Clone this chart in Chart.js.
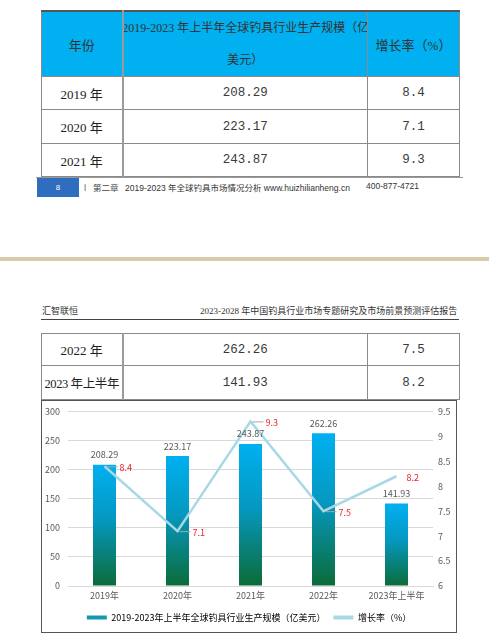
<!DOCTYPE html>
<html><head><meta charset="utf-8">
<script src="https://cdn.jsdelivr.net/npm/chart.js@4.4.0/dist/chart.umd.min.js"></script>
<style>
html,body{margin:0;padding:0;background:#fff;width:489px;height:643px;overflow:hidden;position:relative;font-family:"Liberation Serif","Noto Sans CJK SC",serif;color:#222;}
.abs{position:absolute;}
table{border-collapse:collapse;position:absolute;table-layout:fixed;}
td{border:1px solid #8a8a8a;text-align:center;font-size:13px;padding:0;overflow:hidden;white-space:nowrap;}
td.c1{border-right:2px solid #9a9a9a;}
.hd td{background:#00B0F0;color:#333;}
.num{font-family:"Liberation Mono","DejaVu Sans Mono",monospace;font-size:12.5px;color:#3a3a3a;}
.foot{font-family:"Liberation Sans","Noto Sans CJK SC",sans-serif;font-size:8px;color:#333;white-space:nowrap;}
</style></head>
<body>
<table style="left:41px;top:10px;width:418px;border-top:2px solid #555;">
<colgroup><col style="width:81px"><col style="width:245px"><col style="width:92px"></colgroup>
<tr class="hd" style="height:64px"><td class="c1">年份</td><td style="font-size:12px;line-height:32px;vertical-align:top;white-space:normal;"><div style="white-space:nowrap;margin-left:-3px;margin-right:-4px;">2019-2023 年上半年全球钓具行业生产规模（亿</div><div>美元）</div></td><td>增长率（%）</td></tr>
<tr style="height:33px"><td class="c1">2019 年</td><td class="num">208.29</td><td class="num">8.4</td></tr>
<tr style="height:34px"><td class="c1">2020 年</td><td class="num">223.17</td><td class="num">7.1</td></tr>
<tr style="height:33px"><td class="c1">2021 年</td><td class="num">243.87</td><td class="num">9.3</td></tr>
</table>
<div class="abs" style="left:36px;top:177px;width:427px;height:1px;background:#999;"></div>
<div class="abs" style="left:37px;top:178px;width:42px;height:19px;background:#2F6DBF;color:#fff;font-family:'Liberation Sans',sans-serif;font-size:8px;line-height:19px;text-align:center;">8</div>
<div class="abs foot" style="left:84px;top:182px;">|</div>
<div class="abs foot" style="left:93px;top:181px;font-size:8.5px;color:#444;">第二章</div>
<div class="abs foot" style="left:125px;top:181px;font-size:8.5px;">2019-2023 年全球钓具市场情况分析 www.huizhilianheng.cn</div>
<div class="abs foot" style="left:366px;top:181px;font-size:8.5px;">400-877-4721</div>
<div class="abs" style="left:0;top:257px;width:489px;height:4px;background:#D9CBAA;"></div>
<div class="abs" style="left:42px;top:304px;font-size:9px;color:#333;">汇智联恒</div>
<div class="abs" style="left:200px;top:304px;font-size:9px;color:#333;white-space:nowrap;">2023-2028 年中国钓具行业市场专题研究及市场前景预测评估报告</div>
<div class="abs" style="left:41px;top:319px;width:418px;height:1px;background:#444;"></div>
<table style="left:41px;top:333px;width:418px;">
<colgroup><col style="width:81px"><col style="width:245px"><col style="width:92px"></colgroup>
<tr style="height:32px"><td class="c1">2022 年</td><td class="num">262.26</td><td class="num">7.5</td></tr>
<tr style="height:34px"><td class="c1" style="font-size:12.5px;letter-spacing:-0.4px;">2023 年上半年</td><td class="num">141.93</td><td class="num">8.2</td></tr>
</table>
<div class="abs" style="left:41px;top:400px;width:414px;height:231px;border:1px solid #555;overflow:hidden;">
<canvas id="c" width="414" height="234" style="position:absolute;left:0;top:-3px;display:block;width:414px;height:234px;"></canvas>
</div>
<script>
const categories = ['2019年','2020年','2021年','2022年','2023年上半年'];
const scaleValues = [208.29, 223.17, 243.87, 262.26, 141.93];
const growthValues = [8.4, 7.1, 9.3, 7.5, 8.2];
const leftTicks = ['0','50','100','150','200','250','300'];
const rightTicks = ['6','6.5','7','7.5','8','8.5','9','9.5'];
const seriesNames = ['2019-2023年上半年全球钓具行业生产规模（亿美元）','增长率（%）'];

const FONT = '"Noto Sans CJK SC","Noto Sans",sans-serif';
const TXT = '#595959';

function barGrad(ctx){
  const chart = ctx.chart;
  if (ctx.type !== 'data' || !chart.scales.y) return '#00A6C8';
  const yTop = chart.scales.y.getPixelForValue(ctx.raw);
  const yBot = chart.scales.y.getPixelForValue(0);
  const g = chart.ctx.createLinearGradient(0, yTop, 0, yBot);
  g.addColorStop(0, '#00B0F0');
  g.addColorStop(0.45, '#0598C0');
  g.addColorStop(1, '#0C6B38');
  return g;
}

const labelPlugin = {
  id: 'vals',
  afterDatasetsDraw(chart){
    const c = chart.ctx;
    c.save();
    c.font = '9px ' + FONT;
    const bm = chart.getDatasetMeta(0);
    c.fillStyle = TXT; c.textAlign = 'center'; c.textBaseline = 'middle';
    bm.data.forEach((el,i)=>{ c.fillText(scaleValues[i].toFixed(2), el.x, el.y - 10); });
    const lm = chart.getDatasetMeta(1);
    c.textAlign = 'left';
    lm.data.forEach((el,i)=>{
      const last = i === lm.data.length - 1;
      if (!last){
        c.strokeStyle = '#A6A6A6'; c.lineWidth = 1;
        c.beginPath(); c.moveTo(el.x + 2, el.y + 0.5); c.lineTo(el.x + 13, el.y + 0.5); c.stroke();
      }
      c.fillStyle = '#E8232A';
      c.fillText(growthValues[i].toFixed(1), el.x + (last ? 10 : 15), el.y + 1);
    });
    c.restore();
  }
};

new Chart(document.getElementById('c'), {
  data: {
    labels: categories,
    datasets: [
      { type:'bar', label: seriesNames[0], data: scaleValues, yAxisID:'y', order:2,
        backgroundColor: barGrad, categoryPercentage:1, barPercentage:0.315 },
      { type:'line', label: seriesNames[1], data: growthValues, yAxisID:'y1', order:1,
        borderColor:'#A8D8E6', borderWidth:2.5, pointRadius:0, tension:0, fill:false }
    ]
  },
  options: {
    responsive:false, animation:false, devicePixelRatio:1,
    layout:{ padding:{ top:4, left:0, right:0, bottom:0 } },
    plugins:{
      tooltip:{enabled:false},
      legend:{ position:'bottom',
        labels:{ font:{size:9, family:FONT}, color:TXT, boxWidth:20, boxHeight:4, padding:8,
          generateLabels(){ return [
            {text: seriesNames[0], fillStyle:'#1597B0', strokeStyle:'#1597B0', lineWidth:0, datasetIndex:0},
            {text: seriesNames[1], fillStyle:'#A8D8E6', strokeStyle:'#A8D8E6', lineWidth:0, datasetIndex:1}
          ]; } } }
    },
    scales:{
      x:{ grid:{display:false, drawTicks:false}, border:{display:true, color:'#D9D9D9'},
          ticks:{ font:{size:9, family:FONT}, color:TXT, padding:4, maxRotation:0, autoSkip:false },
          afterFit(s){ s.height = 19; } },
      y:{ position:'left', min:0, max:300, grid:{color:'#D9D9D9', drawTicks:false}, border:{display:false},
          ticks:{ stepSize:50, font:{size:9, family:FONT}, color:TXT, padding:8,
            callback:(v,i)=> leftTicks[i] },
          afterFit(s){ s.width = 26; } },
      y1:{ position:'right', min:6, max:9.5, grid:{display:false, drawTicks:false}, border:{display:false},
          ticks:{ stepSize:0.5, font:{size:9, family:FONT}, color:TXT, padding:5,
            callback:(v,i)=> rightTicks[i] },
          afterFit(s){ s.width = 23; } }
    }
  },
  plugins:[labelPlugin]
});
</script>
</body></html>
